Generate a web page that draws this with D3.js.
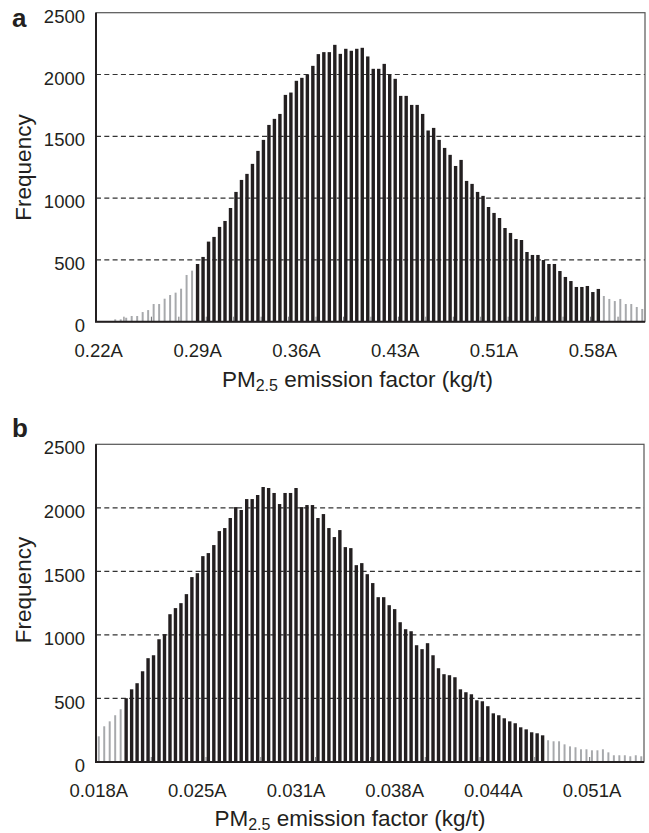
<!DOCTYPE html>
<html>
<head>
<meta charset="utf-8">
<script src="https://cdn.jsdelivr.net/npm/d3@7"></script>
<style>
  html, body { margin: 0; padding: 0; background: #fff; }
  svg { display: block; }
  text { font-family: "Liberation Sans", Arial, Helvetica, sans-serif; fill: #231f20; }
</style>
</head>
<body>
<svg id="chart" width="649" height="833"></svg>
<script>
// ---------- DATA ----------
// Panel a: frequency per bin (100 bins)
const freqA = [
  0, 0, 0, 19, 19, 32, 46, 46, 78, 94,
  143, 143, 186, 216, 235, 267, 378, 413, 467, 524,
  648, 686, 767, 815, 920, 1050, 1147, 1196, 1277, 1382,
  1471, 1592, 1641, 1681, 1835, 1854, 1949, 1973, 2000, 2070,
  2165, 2181, 2181, 2240, 2167, 2208, 2192, 2208, 2216, 2146,
  2046, 2046, 2086, 2000, 1965, 1827, 1827, 1754, 1754, 1681,
  1547, 1568, 1471, 1406, 1350, 1260, 1309, 1139, 1115, 1050,
  1018, 928, 880, 839, 758, 718, 669, 661, 564, 540,
  540, 499, 467, 467, 410, 362, 329, 281, 281, 289,
  240, 265, 208, 184, 167, 184, 143, 143, 119, 103
];
// Panel b: frequency per bin (100 bins)
const freqB = [
  202, 281, 320, 368, 415, 502, 572, 620, 714, 817,
  840, 966, 1006, 1163, 1211, 1250, 1321, 1455, 1486, 1620,
  1644, 1707, 1817, 1841, 1920, 2006, 1983, 2069, 2069, 2101,
  2164, 2156, 2117, 2030, 2117, 2117, 2156, 2006, 2022, 2022,
  1920, 1951, 1841, 1770, 1825, 1691, 1683, 1549, 1565, 1478,
  1408, 1297, 1297, 1234, 1203, 1100, 1045, 1029, 919, 888,
  935, 840, 738, 691, 683, 667, 572, 549, 533, 486,
  478, 439, 383, 368, 344, 320, 305, 273, 257, 234,
  226, 210, 171, 163, 163, 139, 123, 116, 100, 100,
  92, 92, 100, 76, 53, 53, 53, 45, 53, 45
];
// Bins inside the central (black) range; outside are grey tails
const centralA = [18, 91];
const centralB = [5, 81];
// Category-axis labels and the bins they sit under
const labelBins = [0, 18, 36, 54, 72, 90];
const labelsA = ["0.22A", "0.29A", "0.36A", "0.43A", "0.51A", "0.58A"];
const labelsB = ["0.018A", "0.025A", "0.031A", "0.038A", "0.044A", "0.051A"];
const yTicks = [0, 500, 1000, 1500, 2000, 2500];
const gridVals = [500, 1000, 1500, 2000];
const tickEveryA = 5;
const tickEveryB = 10;

// ---------- DRAW ----------
const svg = d3.select("#chart");
const BLACK = "#231f20", GREY = "#a7a9ac";

function panel(cfg) {
  const bins = d3.range(cfg.freq.length);
  const x = d3.scaleBand().domain(bins).range([cfg.left, cfg.right]).paddingInner(0).paddingOuter(0);
  const xb = d3.scaleLinear().domain([0, bins.length]).range([cfg.left, cfg.right]);
  const y = d3.scaleLinear().domain([0, 2500]).range([cfg.bottom, cfg.top]);
  const g = svg.append("g");
  const bw = x.bandwidth();

  // gridlines
  g.selectAll("line.grid").data(gridVals).join("line")
    .attr("x1", cfg.left).attr("x2", cfg.right)
    .attr("y1", d => y(d)).attr("y2", d => y(d))
    .attr("stroke", "#333").attr("stroke-width", 1.2)
    .attr("stroke-dasharray", "5,3.3");

  // bars
  const isCentral = i => i >= cfg.central[0] && i <= cfg.central[1];
  g.selectAll("rect.bar").data(bins).join("rect")
    .attr("x", i => x(i) + bw / 2 - (isCentral(i) ? bw * 0.31 : bw * 0.18))
    .attr("width", i => isCentral(i) ? bw * 0.62 : bw * 0.36)
    .attr("y", i => y(cfg.freq[i]))
    .attr("height", i => y(0) - y(cfg.freq[i]))
    .attr("fill", i => isCentral(i) ? BLACK : GREY);

  // inward minor ticks
  const tv = d3.range(cfg.tickEvery, bins.length, cfg.tickEvery);
  g.append("g")
    .attr("transform", `translate(0,${cfg.bottom})`)
    .call(d3.axisBottom(xb).tickValues(tv).tickSize(-5).tickFormat(""))
    .call(a => a.select(".domain").remove())
    .call(a => a.selectAll("line").attr("stroke", "#6d6e71").attr("stroke-width", 1));

  // frame
  g.append("rect")
    .attr("x", cfg.left).attr("y", cfg.top)
    .attr("width", cfg.right - cfg.left).attr("height", cfg.bottom - cfg.top)
    .attr("fill", "none").attr("stroke", "#555").attr("stroke-width", 1.2);
  g.append("line").attr("x1", cfg.left).attr("x2", cfg.left)
    .attr("y1", cfg.top).attr("y2", cfg.bottom)
    .attr("stroke", "#231f20").attr("stroke-width", 2);
  g.append("line").attr("x1", cfg.left - 1).attr("x2", cfg.right)
    .attr("y1", cfg.bottom).attr("y2", cfg.bottom)
    .attr("stroke", "#231f20").attr("stroke-width", 2);

  // y axis labels
  g.append("g")
    .attr("transform", `translate(${cfg.left},0)`)
    .call(d3.axisLeft(y).tickValues(yTicks).tickSize(0).tickPadding(11).tickFormat(d3.format("d")))
    .call(a => a.select(".domain").remove())
    .call(a => a.selectAll("text")
      .attr("font-size", "18.5px").attr("fill", "#231f20")
      .attr("dy", "0.52em")
      .style("font-family", '"Liberation Sans", Arial, sans-serif'));

  // x axis labels
  g.append("g")
    .attr("transform", `translate(0,${cfg.bottom})`)
    .call(d3.axisBottom(x).tickValues(labelBins).tickSize(0).tickPadding(22)
      .tickFormat((d, k) => cfg.labels[k]))
    .call(a => a.select(".domain").remove())
    .call(a => a.selectAll("text")
      .attr("font-size", "18.5px").attr("fill", "#231f20")
      .style("font-family", '"Liberation Sans", Arial, sans-serif'));

  // x title
  const t = g.append("text")
    .attr("x", cfg.titleX).attr("y", cfg.titleY)
    .attr("text-anchor", "middle")
    .attr("font-size", "22.5px");
  t.append("tspan").text("PM");
  t.append("tspan").text("2.5").attr("font-size", "16px").attr("dy", "4");
  t.append("tspan").text(" emission factor (kg/t)").attr("dy", "-4");

  // y title
  g.append("text")
    .attr("transform", `translate(${cfg.yTitleX},${cfg.yTitleY}) rotate(-90)`)
    .attr("text-anchor", "middle")
    .attr("font-size", "22.5px")
    .text("Frequency");

  // panel letter
  g.append("text")
    .attr("x", 12).attr("y", cfg.letterY)
    .attr("font-size", "26px").attr("font-weight", "bold")
    .text(cfg.letter);
}

panel({
  freq: freqA, central: centralA, labels: labelsA, tickEvery: tickEveryA,
  left: 96, right: 645, top: 12.7, bottom: 321.7,
  titleX: 357.5, titleY: 387, yTitleX: 31, yTitleY: 167.5,
  letter: "a", letterY: 27
});
panel({
  freq: freqB, central: centralB, labels: labelsB, tickEvery: tickEveryB,
  left: 96, right: 644, top: 444.3, bottom: 762,
  titleX: 350, titleY: 826, yTitleX: 31, yTitleY: 590,
  letter: "b", letterY: 437
});
</script>
</body>
</html>
